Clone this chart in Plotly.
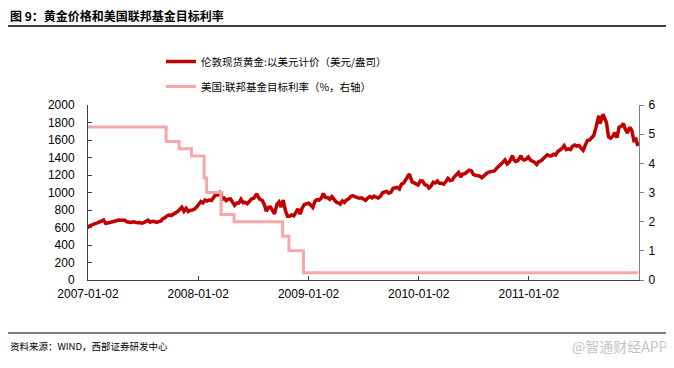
import plotly.graph_objects as go

gold_dates = [
    "2007-01-02","2007-01-05","2007-01-12","2007-01-19","2007-01-26","2007-02-02","2007-02-09","2007-02-16","2007-02-23",
    "2007-03-02","2007-03-09","2007-03-16","2007-03-23","2007-03-30","2007-04-06","2007-04-13","2007-04-20","2007-04-27",
    "2007-05-04","2007-05-11","2007-05-18","2007-05-25","2007-06-01","2007-06-08","2007-06-15","2007-06-22","2007-06-29",
    "2007-07-06","2007-07-13","2007-07-20","2007-07-27","2007-08-03","2007-08-10","2007-08-17","2007-08-24","2007-08-31",
    "2007-09-07","2007-09-14","2007-09-21","2007-09-28","2007-10-05","2007-10-12","2007-10-19","2007-10-26",
    "2007-11-02","2007-11-09","2007-11-16","2007-11-23","2007-11-30","2007-12-07","2007-12-14","2007-12-21","2007-12-28",
    "2008-01-04","2008-01-11","2008-01-18","2008-01-25","2008-02-01","2008-02-08","2008-02-15","2008-02-22","2008-02-29",
    "2008-03-07","2008-03-14","2008-03-17","2008-03-21","2008-03-28","2008-04-04","2008-04-11","2008-04-18","2008-04-25",
    "2008-05-02","2008-05-09","2008-05-16","2008-05-23","2008-05-30","2008-06-06","2008-06-13","2008-06-20","2008-06-27",
    "2008-07-04","2008-07-11","2008-07-15","2008-07-18","2008-07-25","2008-08-01","2008-08-08","2008-08-15","2008-08-22","2008-08-29",
    "2008-09-05","2008-09-11","2008-09-19","2008-09-26","2008-10-03","2008-10-10","2008-10-17","2008-10-24","2008-10-31",
    "2008-11-07","2008-11-14","2008-11-21","2008-11-28","2008-12-05","2008-12-12","2008-12-19","2008-12-26",
    "2009-01-02","2009-01-09","2009-01-16","2009-01-23","2009-01-30","2009-02-06","2009-02-13","2009-02-20","2009-02-27",
    "2009-03-06","2009-03-13","2009-03-20","2009-03-27","2009-04-03","2009-04-10","2009-04-17","2009-04-24",
    "2009-05-01","2009-05-08","2009-05-15","2009-05-22","2009-05-29","2009-06-05","2009-06-12","2009-06-19","2009-06-26",
    "2009-07-03","2009-07-10","2009-07-17","2009-07-24","2009-07-31","2009-08-07","2009-08-14","2009-08-21","2009-08-28",
    "2009-09-04","2009-09-11","2009-09-18","2009-09-25","2009-10-02","2009-10-09","2009-10-16","2009-10-23","2009-10-30",
    "2009-11-06","2009-11-13","2009-11-20","2009-11-27","2009-12-02","2009-12-11","2009-12-18","2009-12-25","2009-12-31",
    "2010-01-08","2010-01-15","2010-01-22","2010-01-29","2010-02-05","2010-02-12","2010-02-19","2010-02-26",
    "2010-03-05","2010-03-12","2010-03-19","2010-03-26","2010-04-02","2010-04-09","2010-04-16","2010-04-23","2010-04-30",
    "2010-05-07","2010-05-14","2010-05-21","2010-05-28","2010-06-04","2010-06-11","2010-06-18","2010-06-25",
    "2010-07-02","2010-07-09","2010-07-16","2010-07-23","2010-07-30","2010-08-06","2010-08-13","2010-08-20","2010-08-27",
    "2010-09-03","2010-09-10","2010-09-17","2010-09-24","2010-10-01","2010-10-08","2010-10-15","2010-10-22","2010-10-29",
    "2010-11-05","2010-11-09","2010-11-12","2010-11-19","2010-11-26","2010-12-03","2010-12-07","2010-12-10","2010-12-17","2010-12-24","2010-12-31",
    "2011-01-07","2011-01-14","2011-01-21","2011-01-28","2011-02-04","2011-02-11","2011-02-18","2011-02-25",
    "2011-03-04","2011-03-11","2011-03-18","2011-03-25","2011-04-01","2011-04-08","2011-04-15","2011-04-22","2011-04-29",
    "2011-05-06","2011-05-13","2011-05-20","2011-05-27","2011-06-03","2011-06-10","2011-06-17","2011-06-24",
    "2011-07-01","2011-07-08","2011-07-15","2011-07-22","2011-07-29","2011-08-05","2011-08-12","2011-08-19","2011-08-22","2011-08-26",
    "2011-09-02","2011-09-05","2011-09-09","2011-09-16","2011-09-23","2011-09-26","2011-09-30","2011-10-07","2011-10-14","2011-10-21","2011-10-28",
    "2011-11-04","2011-11-11","2011-11-18","2011-11-25","2011-12-02","2011-12-09","2011-12-16","2011-12-23","2011-12-29",
]
gold_prices = [
    632,609,626,631,645,652,664,665,685,
    645,651,651,662,662,677,686,684,677,
    682,666,659,657,664,656,654,656,650,
    656,666,683,660,672,668,658,668,673,
    702,712,735,743,737,750,766,783,
    806,832,786,820,783,798,799,810,834,
    863,897,881,914,903,913,908,945,975,
    973,1001,1011,921,936,908,925,928,884,
    853,881,880,923,883,887,872,900,928,
    933,962,986,956,921,913,864,786,829,833,
    796,756,865,891,833,913,796,730,730,
    743,733,784,814,753,824,862,870,
    878,856,830,899,919,913,936,989,942,
    942,922,953,924,892,883,868,904,
    887,916,928,955,961,952,939,934,939,
    928,911,937,953,939,958,946,936,955,
    996,1006,1012,992,1003,1048,1051,1058,1040,
    1096,1107,1145,1176,1212,1121,1109,1095,1087,
    1136,1131,1091,1083,1052,1073,1118,1108,
    1132,1105,1105,1096,1125,1160,1136,1142,1179,
    1208,1229,1177,1213,1215,1230,1256,1249,
    1207,1197,1191,1187,1169,1198,1212,1231,1236,
    1248,1246,1276,1296,1317,1346,1371,1326,1346,
    1394,1421,1382,1355,1363,1406,1421,1389,1372,1380,1405,
    1371,1362,1345,1319,1353,1360,1385,1409,
    1431,1420,1418,1437,1429,1469,1485,1503,1535,
    1491,1499,1491,1528,1542,1530,1538,1508,
    1483,1542,1594,1601,1628,1651,1738,1852,1877,1790,
    1876,1895,1857,1799,1637,1628,1620,1643,1683,1626,1747,
    1757,1788,1721,1680,1746,1713,1595,1610,1531,
]

fed_dates = ["2007-01-02","2007-09-18","2007-10-31","2007-12-11","2008-01-22","2008-01-30",
             "2008-03-18","2008-04-30","2008-10-08","2008-10-29","2008-12-16","2011-12-30"]
fed_rates = [5.25,4.75,4.5,4.25,3.5,3.0,2.25,2.0,1.5,1.0,0.25,0.25]

x_tickvals = ["2007-01-02","2008-01-02","2009-01-02","2010-01-02","2011-01-02"]
x_ticktext = ["2007-01-02","2008-01-02","2009-01-02","2010-01-02","2011-01-02"]

name_gold = "伦敦现货黄金:以美元计价（美元/盎司）"
name_fed = "美国:联邦基金目标利率（%，右轴）"

FONT = "Liberation Sans, Arial, Noto Sans CJK SC, sans-serif"
CJK = "Noto Sans CJK SC, sans-serif"

# page body adds an 8px offset; figure coords = screen coords - 8
OFF = 8
W, H = 666, 360
L, T = 88 - OFF, 105 - OFF
R = W - (639 - OFF)
B = H - (280 - OFF)
PW, PH = W - L - R, H - T - B


def px_x(sx):
    return (sx - OFF - L) / PW


def px_y(sy):
    return (H - B - (sy - OFF)) / PH


fig = go.Figure()
fig.add_trace(go.Scatter(x=fed_dates, y=fed_rates, name=name_fed, yaxis="y2",
                         mode="lines", line=dict(color="#F4A9A8", width=3, shape="hv"),
                         legendrank=2, legendgroup="b"))
fig.add_trace(go.Scatter(x=gold_dates, y=gold_prices, name=name_gold, yaxis="y",
                         mode="lines", line=dict(color="#C00000", width=3.5),
                         legendrank=1, legendgroup="a"))

fig.update_layout(
    width=W, height=H,
    margin=dict(l=L, r=R, t=T, b=B, autoexpand=False),
    paper_bgcolor="white", plot_bgcolor="white",
    font=dict(family=FONT, size=12, color="black"),
    showlegend=True,
    legend=dict(x=px_x(161), y=px_y(47), xanchor="left", yanchor="top",
                font=dict(family=CJK, size=10.5, color="black"),
                tracegroupgap=6, itemwidth=30, bgcolor="rgba(0,0,0,0)"),
    xaxis=dict(type="date", range=["2007-01-02", "2012-01-02"],
               tickvals=x_tickvals, ticktext=x_ticktext, automargin=False,
               showgrid=False, zeroline=False, showline=True, linecolor="#404040", linewidth=1,
               ticks="inside", ticklen=4, tickcolor="#404040", ticklabelstandoff=3,
               tickfont=dict(family=FONT, size=12)),
    yaxis=dict(range=[0, 2000], dtick=200, showgrid=False, zeroline=False, automargin=False,
               showline=True, linecolor="#404040", linewidth=1,
               ticks="inside", ticklen=4, tickcolor="#404040", ticklabelstandoff=10,
               tickfont=dict(family=FONT, size=12)),
    yaxis2=dict(range=[0, 6], dtick=1, overlaying="y", side="right", showgrid=False,
                zeroline=False, showline=True, linecolor="#808080", linewidth=1, automargin=False,
                ticks="outside", ticklen=4, tickcolor="#808080", ticklabelstandoff=2,
                tickfont=dict(family=FONT, size=12)),
)

fig.add_annotation(text="<b>图 9：黄金价格和美国联邦基金目标利率</b>", xref="paper", yref="paper",
                   x=px_x(8), y=px_y(15), xanchor="left", yanchor="middle",
                   showarrow=False, font=dict(family=CJK, size=12, color="black"))
fig.add_annotation(text="资料来源：WIND，西部证券研发中心", xref="paper", yref="paper",
                   x=px_x(8), y=px_y(346), xanchor="left", yanchor="middle",
                   showarrow=False, font=dict(family=CJK, size=9.5, color="black"))
fig.add_annotation(text="@智通财经APP", xref="paper", yref="paper",
                   x=px_x(670), y=px_y(346), xanchor="right", yanchor="middle",
                   showarrow=False, font=dict(family=CJK, size=14, color="#C4C4C4"))

fig.add_shape(type="line", xref="paper", yref="paper", x0=px_x(8), x1=px_x(674),
              y0=px_y(26), y1=px_y(26), line=dict(color="black", width=1.5))
fig.add_shape(type="line", xref="paper", yref="paper", x0=px_x(8), x1=px_x(674),
              y0=px_y(333), y1=px_y(333), line=dict(color="black", width=1.2))

fig.write_html("out.html")
